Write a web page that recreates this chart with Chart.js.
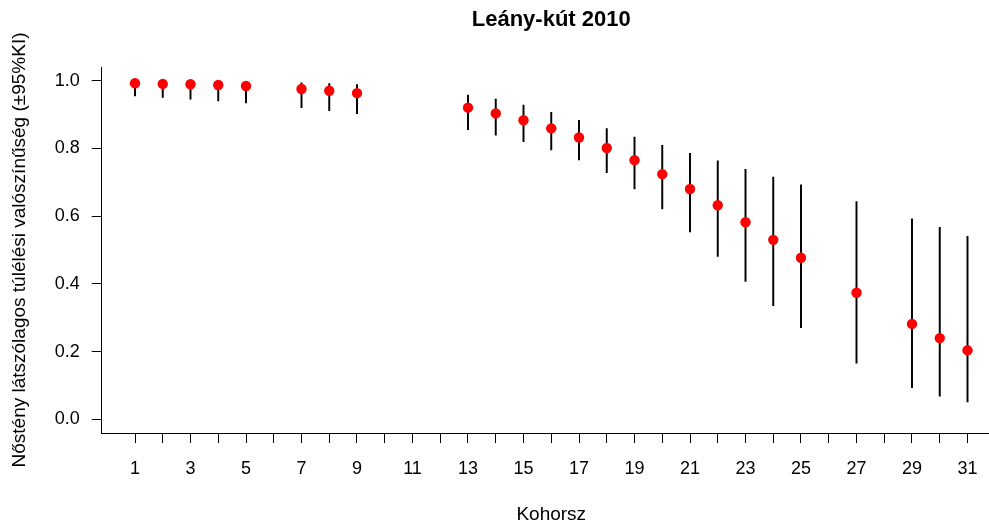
<!DOCTYPE html>
<html lang="hu">
<head>
<meta charset="utf-8">
<title>Leány-kút 2010</title>
<script src="https://cdn.jsdelivr.net/npm/chart.js@4/dist/chart.umd.min.js"></script>
<style>
  html, body { margin: 0; padding: 0; background: #ffffff; overflow: hidden; }
  #wrap { width: 1006px; height: 524px; }
</style>
</head>
<body>
<div id="wrap"><canvas id="chart" width="1006" height="524"></canvas></div>
<script>
// Cohorts with an estimate (6, 10-12, 26 and 28 have none)
const kohorsz = [1, 2, 3, 4, 5, 7, 8, 9, 13, 14, 15, 16, 17, 18, 19, 20, 21, 22, 23, 24, 25, 27, 29, 30, 31];
// Apparent female survival probability per cohort
const survival = [0.992, 0.990, 0.989, 0.987, 0.984, 0.975, 0.970, 0.963, 0.920, 0.903, 0.883, 0.859, 0.832,
                  0.801, 0.765, 0.724, 0.680, 0.632, 0.582, 0.530, 0.477, 0.374, 0.282, 0.240, 0.204];
// 95% confidence interval bounds
const lower = [0.955, 0.950, 0.945, 0.940, 0.934, 0.920, 0.911, 0.902, 0.855, 0.839, 0.820, 0.795, 0.766,
               0.728, 0.680, 0.621, 0.553, 0.481, 0.407, 0.336, 0.271, 0.166, 0.094, 0.069, 0.052];
const upper = [0.998, 0.998, 0.997, 0.996, 0.995, 0.993, 0.991, 0.988, 0.957, 0.945, 0.928, 0.906, 0.883,
               0.858, 0.833, 0.809, 0.785, 0.763, 0.738, 0.715, 0.692, 0.643, 0.592, 0.567, 0.540];
// Axis ticks
const xTicks = Array.from({ length: 31 }, (_, i) => i + 1);
const yTicks = [0, 0.2, 0.4, 0.6, 0.8, 1.0];

const FONT = '"Liberation Sans", Arial, Helvetica, sans-serif';

const intervals = kohorsz.map((k, i) => ({ x: k, y: [lower[i], upper[i]] }));
const points = kohorsz.map((k, i) => ({ x: k, y: survival[i] }));

new Chart(document.getElementById('chart'), {
  type: 'bar',
  data: {
    datasets: [
      {
        type: 'scatter',
        data: points,
        order: 0,
        pointRadius: 5.2,
        pointHoverRadius: 5.2,
        pointBackgroundColor: '#ff0000',
        pointBorderWidth: 0,
        showLine: false
      },
      {
        type: 'bar',
        data: intervals,
        order: 1,
        backgroundColor: '#000000',
        borderWidth: 0,
        barThickness: 1.3,
        grouped: false
      }
    ]
  },
  options: {
    responsive: false,
    animation: false,
    devicePixelRatio: 1,
    layout: { padding: { top: 0, right: 1, bottom: 0, left: 0 } },
    plugins: {
      legend: { display: false },
      tooltip: { enabled: false },
      title: {
        display: true,
        fullSize: false,
        text: 'Leány-kút 2010',
        color: '#000000',
        font: { family: FONT, size: 22, weight: 'bold', lineHeight: 1.2 },
        padding: { top: 7, bottom: 33.6 }
      }
    },
    scales: {
      x: {
        type: 'linear',
        offset: false,
        min: -0.2,
        max: 32.2,
        afterBuildTicks: s => { s.ticks = xTicks.map(v => ({ value: v })); },
        afterFit: s => { s.height = 91; },
        grid: { offset: false, drawOnChartArea: false, drawTicks: true, tickLength: 10, color: '#000000', lineWidth: 1 },
        border: { display: true, color: '#000000', width: 1 },
        ticks: {
          autoSkip: false,
          maxRotation: 0,
          padding: 15,
          color: '#000000',
          font: { family: FONT, size: 18 },
          callback: v => (v % 2 === 1 ? String(v) : '')
        },
        title: {
          display: true,
          text: 'Kohorsz',
          color: '#000000',
          font: { family: FONT, size: 19, lineHeight: 1.0 },
          padding: { top: 0, bottom: 0 }
        }
      },
      y: {
        type: 'linear',
        min: -0.04,
        max: 1.04,
        afterBuildTicks: s => { s.ticks = yTicks.map(v => ({ value: v })); },
        afterFit: s => { s.width = 101.7; },
        grid: { drawOnChartArea: false, drawTicks: true, tickLength: 10, color: '#000000', lineWidth: 1 },
        border: { display: true, color: '#000000', width: 1 },
        ticks: {
          padding: 12,
          color: '#000000',
          font: { family: FONT, size: 18 },
          callback: v => Number(v).toFixed(1)
        },
        title: {
          display: true,
          text: 'Nőstény látszólagos túlélési valószínűség (±95%KI)',
          color: '#000000',
          font: { family: FONT, size: 19, lineHeight: 1.2 },
          padding: { top: 8, bottom: 0 }
        }
      }
    }
  }
});
</script>
</body>
</html>
